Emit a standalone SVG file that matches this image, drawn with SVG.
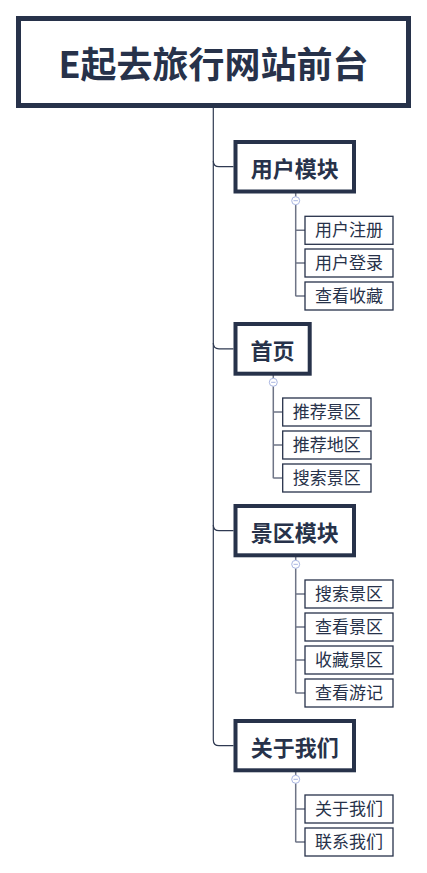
<svg xmlns="http://www.w3.org/2000/svg" width="427" height="873" viewBox="0 0 427 873">
<style>
text{font-family:"Noto Sans CJK SC","Noto Sans",sans-serif;text-anchor:middle;fill:#27324a}
.root{fill:#fff;stroke:#27324a;stroke-width:5}
.main{fill:#fff;stroke:#27324a;stroke-width:4}
.leaf{fill:#fff;stroke:#27324a;stroke-width:1.3}
.rt{font-size:36px;font-weight:bold}
.mt{font-size:22px;font-weight:bold}
.lt{font-size:17px}
.trunk{fill:none;stroke:#2f3a52;stroke-width:1.2}
.sub{fill:none;stroke:#6e7486;stroke-width:1.5}
.tog{fill:#fff;stroke:#a9b6e2;stroke-width:1}
.togm{stroke:#a9b6e2;stroke-width:1}
</style>
<g id="connectors">
<path class="trunk" d="M213.3,108 V740 Q213.3,745.7 219,745.7 H233.5"/>
<path class="trunk" d="M213.3,161 Q213.3,166.7 219,166.7 H233.5"/>
<path class="trunk" d="M213.3,343 Q213.3,348.8 219,348.8 H233.5"/>
<path class="trunk" d="M213.3,525 Q213.3,530.7 219,530.7 H233.5"/>
<path class="sub" d="M295.7,193 V196.7 M295.7,204.7 V296.3 M295.7,230.3 H305 M295.7,263 H305 M295.7,296 H305"/>
<path class="sub" d="M273.3,375 V378.3 M273.3,386.3 V478.3 M273.3,412 H282.7 M273.3,445 H282.7 M273.3,478 H282.7"/>
<path class="sub" d="M295.7,557 V560.3 M295.7,568.3 V693.3 M295.7,594 H305 M295.7,627 H305 M295.7,660 H305 M295.7,693 H305"/>
<path class="sub" d="M295.7,772 V775.3 M295.7,783.3 V842.3 M295.7,809 H305 M295.7,842 H305"/>
</g>
<g id="root">
<rect class="root" x="18.5" y="18.5" width="390" height="87"/>
<text class="rt" x="213.5" y="78">E起去旅行网站前台</text>
</g>
<g id="n-user">
<rect class="main" x="235.5" y="142" width="118.5" height="49.5"/>
<text class="mt" x="294.7" y="177">用户模块</text>
<circle class="tog" cx="295.7" cy="200.7" r="4"/><path class="togm" d="M293.5,200.7 H297.9"/>
</g>
<g id="n-user-1"><rect class="leaf" x="305" y="216.3" width="88" height="28"/><text class="lt" x="349" y="236.3">用户注册</text></g>
<g id="n-user-2"><rect class="leaf" x="305" y="249" width="88" height="28"/><text class="lt" x="349" y="269">用户登录</text></g>
<g id="n-user-3"><rect class="leaf" x="305" y="282" width="88" height="28"/><text class="lt" x="349" y="302">查看收藏</text></g>
<g id="n-home">
<rect class="main" x="235.5" y="324" width="74.2" height="49.7"/>
<text class="mt" x="272.6" y="359">首页</text>
<circle class="tog" cx="273.3" cy="382.3" r="4"/><path class="togm" d="M271.1,382.3 H275.5"/>
</g>
<g id="n-home-1"><rect class="leaf" x="282.7" y="398" width="88.3" height="28"/><text class="lt" x="326.8" y="418">推荐景区</text></g>
<g id="n-home-2"><rect class="leaf" x="282.7" y="431" width="88.3" height="28"/><text class="lt" x="326.8" y="451">推荐地区</text></g>
<g id="n-home-3"><rect class="leaf" x="282.7" y="464" width="88.3" height="28"/><text class="lt" x="326.8" y="484">搜索景区</text></g>
<g id="n-scenic">
<rect class="main" x="235.5" y="506" width="118.5" height="49.3"/>
<text class="mt" x="294.7" y="541">景区模块</text>
<circle class="tog" cx="295.7" cy="564.3" r="4"/><path class="togm" d="M293.5,564.3 H297.9"/>
</g>
<g id="n-scenic-1"><rect class="leaf" x="305" y="580" width="88" height="28"/><text class="lt" x="349" y="600">搜索景区</text></g>
<g id="n-scenic-2"><rect class="leaf" x="305" y="613" width="88" height="28"/><text class="lt" x="349" y="633">查看景区</text></g>
<g id="n-scenic-3"><rect class="leaf" x="305" y="646" width="88" height="28"/><text class="lt" x="349" y="666">收藏景区</text></g>
<g id="n-scenic-4"><rect class="leaf" x="305" y="679" width="88" height="28"/><text class="lt" x="349" y="699">查看游记</text></g>
<g id="n-about">
<rect class="main" x="235.5" y="721" width="118.5" height="49.3"/>
<text class="mt" x="294.7" y="756">关于我们</text>
<circle class="tog" cx="295.7" cy="779.3" r="4"/><path class="togm" d="M293.5,779.3 H297.9"/>
</g>
<g id="n-about-1"><rect class="leaf" x="305" y="795" width="88" height="28"/><text class="lt" x="349" y="815">关于我们</text></g>
<g id="n-about-2"><rect class="leaf" x="305" y="828" width="88" height="28"/><text class="lt" x="349" y="848">联系我们</text></g>
</svg>
